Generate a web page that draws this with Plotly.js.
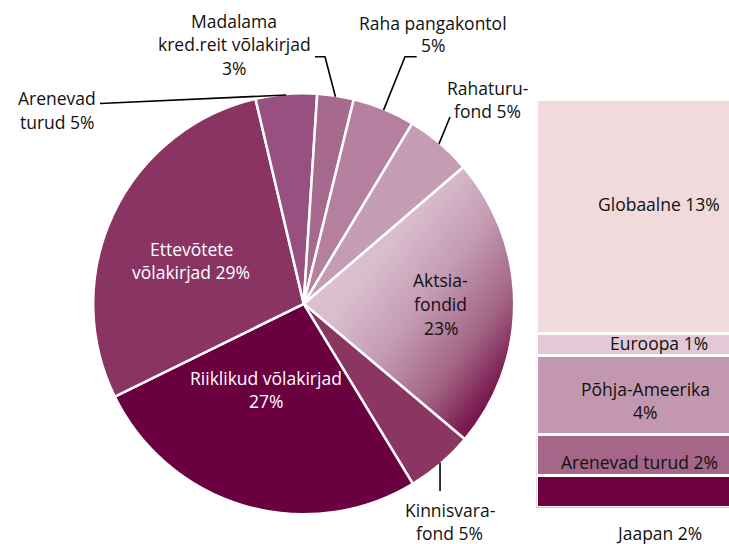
<!DOCTYPE html>
<html>
<head>
<meta charset="utf-8">
<script src="https://cdn.plot.ly/plotly-3.0.1.min.js"></script>
<style>html,body{margin:0;padding:0;background:#fff;}#chart{width:729px;height:544px;}</style>
</head>
<body>
<div id="chart"></div>
<script>
// ---- data ----
const sliceLabels = ['Aktsiafondid', 'Kinnisvarafond', 'Riiklikud võlakirjad', 'Ettevõtete võlakirjad',
                     'Arenevad turud', 'Madalama kred.reit võlakirjad', 'Raha pangakontol', 'Rahaturufond'];
const sliceValues = [22.4, 5.2, 26.4, 28.6, 4.7, 2.8, 4.8, 5.1];
const slicePct = ['23%', '5%', '27%', '29%', '5%', '3%', '5%', '5%'];
const sliceColors = ['#c49ab2', '#8b3563', '#6b0040', '#8a3464', '#975080', '#a8698f', '#b5809f', '#c49cb3'];

const regionLabels = ['Jaapan', 'Arenevad turud', 'Põhja-Ameerika', 'Euroopa', 'Globaalne'];
const regionValues = [1.72, 2.26, 4.28, 1.18, 12.66];
const regionPct = ['2%', '2%', '4%', '1%', '13%'];
const regionColors = ['#6d0040', '#a5668a', '#c497b0', '#e3c9d6', '#f0dadb'];

// ---- layout constants ----
const W = 729, H = 544;
const CX = 303.7, CY = 303.8, R = 210.5;
const ROT = 49.4;
const FONT = '"Open Sans", "Noto Sans", sans-serif';
const FS = 17.5;
const px = x => x / W;
const py = y => 1 - y / H;

const pie = {
  type: 'pie',
  labels: sliceLabels,
  values: sliceValues,
  sort: false,
  direction: 'clockwise',
  rotation: ROT,
  textinfo: 'none',
  hoverinfo: 'none',
  showlegend: false,
  marker: {colors: sliceColors, line: {color: '#ffffff', width: 2.5}},
  domain: {x: [px(CX - R), px(CX + R)], y: [py(CY + R), py(CY - R)]}
};

const bars = regionLabels.map((lab, i) => ({
  type: 'bar',
  x: [0],
  y: [regionValues[i]],
  name: lab,
  width: 1,
  xaxis: 'x',
  yaxis: 'y',
  marker: {color: regionColors[i], line: {color: '#ffffff', width: 3}},
  hoverinfo: 'none',
  showlegend: false
}));
const regionTotal = regionValues.reduce((a, b) => a + b, 0);

// ---- labels ----
const annotations = [];
function addLabel(lines, cx, baseline, color, gap) {
  lines.forEach((t, i) => {
    annotations.push({
      xref: 'paper', yref: 'paper', x: px(cx), y: py(baseline + i * gap - 6.3),
      xanchor: 'center', yanchor: 'middle', showarrow: false, text: t,
      font: {family: FONT, size: FS, color: color}
    });
  });
}
const black = '#111111', white = '#ffffff';
addLabel(['Aktsia-', 'fondid', slicePct[0]], 440.5, 286, black, 24);
addLabel(['Kinnisvara-', 'fond ' + slicePct[1]], 449.5, 516.7, black, 22.6);
addLabel(['Riiklikud võlakirjad', slicePct[2]], 265.5, 384, white, 23.3);
addLabel(['Ettevõtete', 'võlakirjad ' + slicePct[3]], 191.3, 255, white, 23.3);
addLabel(['Arenevad', 'turud ' + slicePct[4]], 57, 104.3, black, 23.8);
addLabel(['Madalama', 'kred.reit võlakirjad', slicePct[5]], 234, 27.3, black, 23.3);
addLabel(['Raha pangakontol', slicePct[6]], 433, 29.3, black, 22.4);
addLabel(['Rahaturu-', 'fond ' + slicePct[7]], 487.5, 94.3, black, 23);

addLabel([regionLabels[4] + ' ' + regionPct[4]], 659, 210, black, 23);
addLabel([regionLabels[3] + ' ' + regionPct[3]], 659, 349.3, black, 23);
addLabel([regionLabels[2], regionPct[2]], 645.3, 395, black, 23.3);
addLabel([regionLabels[1] + ' ' + regionPct[1]], 639.2, 468.3, black, 23);
addLabel([regionLabels[0] + ' ' + regionPct[0]], 659.2, 539.3, black, 23);

// ---- leader lines (start at each slice's outer edge, mid-angle, from data) ----
const total = sliceValues.reduce((a, b) => a + b, 0);
const mids = [];
let cum = 0;
sliceValues.forEach(v => { mids.push(ROT + 360 * (cum + v / 2) / total); cum += v; });
const REDGE = 209.5;
function edge(i) {
  const a = mids[i] * Math.PI / 180;
  return [CX + REDGE * Math.sin(a), CY - REDGE * Math.cos(a)];
}
function pathOf(pts) {
  return pts.map((p, k) => (k ? 'L' : 'M') + px(p[0]).toFixed(5) + ',' + py(p[1]).toFixed(5)).join(' ');
}
const leaders = [];
const eKin = edge(1); leaders.push([eKin, [eKin[0], 491]]);
leaders.push([edge(4), [100, 103.5]]);
leaders.push([edge(5), [325, 56.7], [315, 56.7]]);
leaders.push([edge(6), [405, 56.7], [416.7, 56.7]]);
leaders.push([edge(7), [450, 117]]);
const shapes = leaders.map(pts => ({
  type: 'path', xref: 'paper', yref: 'paper', path: pathOf(pts),
  line: {color: '#000000', width: 1.6}
}));

const layout = {
  width: W, height: H,
  margin: {l: 0, r: 0, t: 0, b: 0},
  paper_bgcolor: '#ffffff', plot_bgcolor: 'rgba(0,0,0,0)',
  barmode: 'stack',
  showlegend: false,
  xaxis: {domain: [px(536.2), 1], range: [-0.5, 0.3], visible: false, fixedrange: true},
  yaxis: {domain: [py(507.5), py(99.5)], range: [0, regionTotal], visible: false, fixedrange: true},
  annotations: annotations,
  shapes: shapes,
  font: {family: FONT, size: FS, color: black}
};

Plotly.newPlot('chart', [pie].concat(bars), layout, {staticPlot: true, displayModeBar: false}).then(gd => {
  const svg = gd.querySelector('svg.main-svg');
  const NS = 'http://www.w3.org/2000/svg';
  let defs = svg.querySelector('defs');
  if (!defs) { defs = document.createElementNS(NS, 'defs'); svg.insertBefore(defs, svg.firstChild); }
  const grad = document.createElementNS(NS, 'linearGradient');
  grad.setAttribute('id', 'aktsGrad');
  grad.setAttribute('x1', '0'); grad.setAttribute('y1', '0');
  grad.setAttribute('x2', '1'); grad.setAttribute('y2', '1');
  [[0, '#e4d0dc'], [0.35, '#d9bccd'], [0.53, '#c59cb3'], [0.72, '#a36585'], [0.86, '#7a1a50'], [1, '#6c0842']]
    .forEach(([o, c]) => {
      const s = document.createElementNS(NS, 'stop');
      s.setAttribute('offset', o); s.setAttribute('stop-color', c);
      grad.appendChild(s);
    });
  defs.appendChild(grad);
  const slice = gd.querySelectorAll('.pielayer .slice path.surface')[0];
  if (slice) slice.style.fill = 'url(#aktsGrad)';
});
</script>
</body>
</html>
